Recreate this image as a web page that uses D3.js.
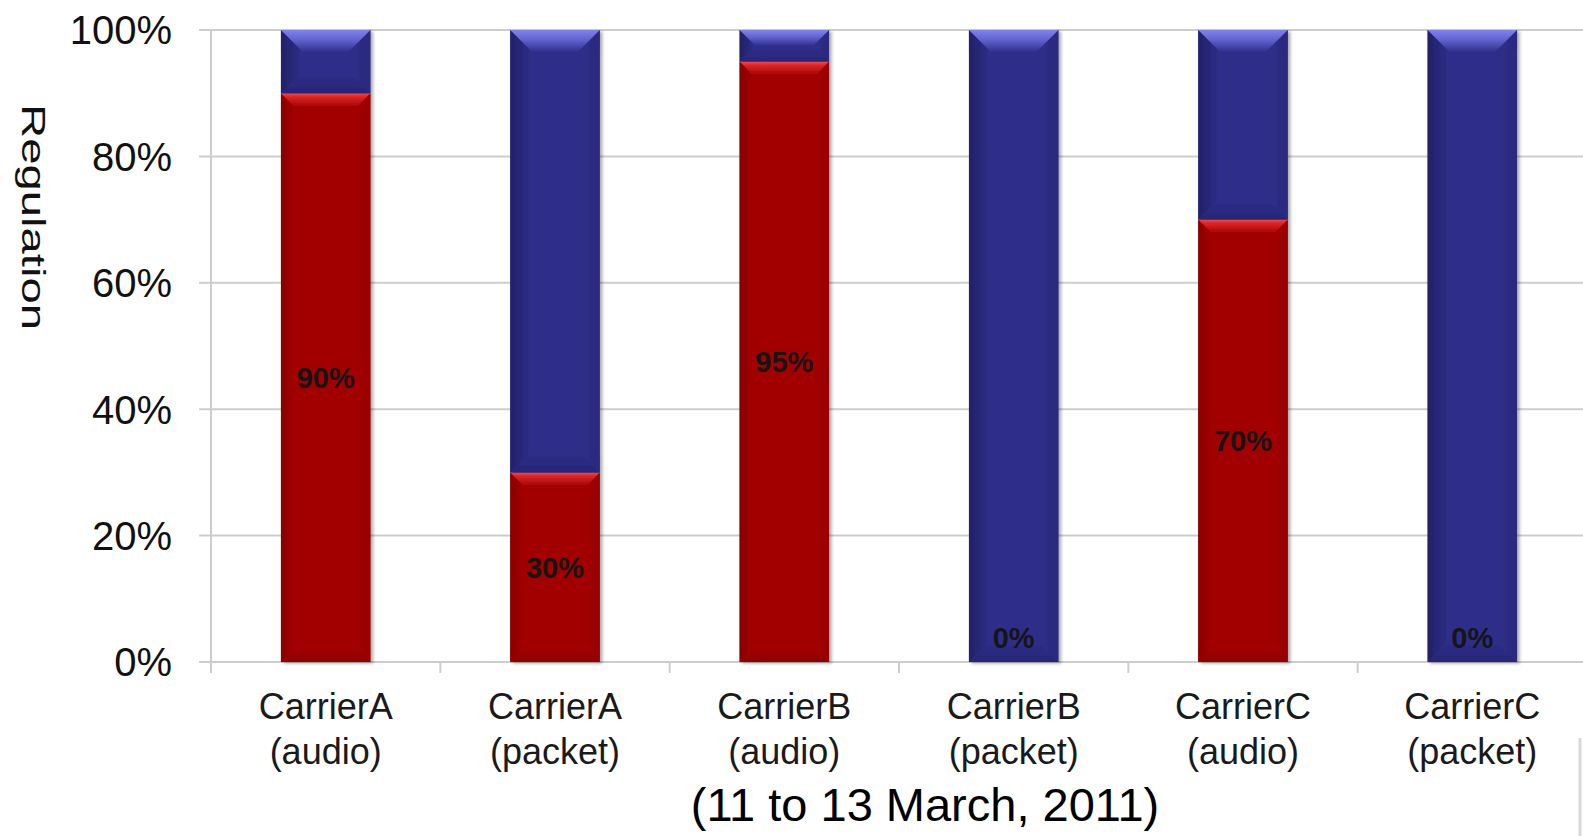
<!DOCTYPE html>
<html>
<head>
<meta charset="utf-8">
<script src="https://cdn.jsdelivr.net/npm/d3@7"></script>
<style>
  html, body { margin: 0; padding: 0; background: #fff; }
  svg { display: block; font-family: "Liberation Sans", Arial, sans-serif; }
</style>
</head>
<body>
<svg id="chart" width="1583" height="836"></svg>
<script>
// Share of regulated traffic per carrier and service, 11–13 March 2011
const carriers = ["CarrierA", "CarrierA", "CarrierB", "CarrierB", "CarrierC", "CarrierC"];
const services = ["(audio)", "(packet)", "(audio)", "(packet)", "(audio)", "(packet)"];
const regulated = [90, 30, 95, 0, 70, 0];           // red, bottom segment
const remaining = regulated.map(v => 100 - v);       // blue, fills each bar to 100%
const yTicks = [0, 20, 40, 60, 80, 100];
const yTickLabels = ["0%", "20%", "40%", "60%", "80%", "100%"];
const axisTitle = "Regulation";
const periodTitle = "(11 to 13 March, 2011)";

const rows = carriers.map((c, i) => ({
  key: c + " " + services[i], carrier: c, service: services[i],
  regulated: regulated[i], remaining: remaining[i]
}));

const svg = d3.select("#chart");
const W = 1583, H = 836;
const plot = { left: 211, right: 1587, top: 30, bottom: 662 };

const x = d3.scaleBand()
  .domain(rows.map(d => d.key))
  .range([plot.left, plot.right])
  .paddingInner(0.61)
  .paddingOuter(0.305);
const y = d3.scaleLinear().domain([0, 100]).range([plot.bottom, plot.top]);

const series = d3.stack().keys(["regulated", "remaining"])(rows);

const palette = {
  regulated: { base: "#A20606", top: "#F64848", topMid: "#DC2424", midAt: 0.3, bevel: 13,
               left: "#880404", right: "#960505", bottom: "#8C0404" },
  remaining: { base: "#2F2F8A", top: "#8282EC", topMid: "#6262CF", midAt: 0.45, bevel: 22,
               left: "#212168", right: "#2A2A7E", bottom: "#262678" }
};

const defs = svg.append("defs");
const shadow = defs.append("filter").attr("id", "barShadow")
  .attr("x", "-10%").attr("y", "-5%").attr("width", "125%").attr("height", "112%");
shadow.append("feDropShadow").attr("dx", 2.5).attr("dy", 1.5).attr("stdDeviation", 1.6)
  .attr("flood-color", "#000").attr("flood-opacity", 0.32);

Object.entries(palette).forEach(([k, c]) => {
  const g = defs.append("linearGradient").attr("id", "top-" + k)
    .attr("x1", 0).attr("y1", 0).attr("x2", 0).attr("y2", 1);
  g.append("stop").attr("offset", 0).attr("stop-color", c.top);
  g.append("stop").attr("offset", c.midAt).attr("stop-color", c.topMid);
  g.append("stop").attr("offset", 1).attr("stop-color", c.base);
  const l = defs.append("linearGradient").attr("id", "left-" + k)
    .attr("x1", 0).attr("y1", 0).attr("x2", 1).attr("y2", 0);
  l.append("stop").attr("offset", 0).attr("stop-color", c.left);
  l.append("stop").attr("offset", 1).attr("stop-color", c.base);
  const r = defs.append("linearGradient").attr("id", "right-" + k)
    .attr("x1", 0).attr("y1", 0).attr("x2", 1).attr("y2", 0);
  r.append("stop").attr("offset", 0).attr("stop-color", c.base);
  r.append("stop").attr("offset", 1).attr("stop-color", c.right);
  const b = defs.append("linearGradient").attr("id", "bottom-" + k)
    .attr("x1", 0).attr("y1", 0).attr("x2", 0).attr("y2", 1);
  b.append("stop").attr("offset", 0).attr("stop-color", c.base);
  b.append("stop").attr("offset", 1).attr("stop-color", c.bottom);
});

// Horizontal gridlines with short outward ticks
const grid = svg.append("g").attr("class", "grid");
grid.selectAll("line").data(yTicks).join("line")
  .attr("x1", plot.left - 12).attr("x2", W + 5)
  .attr("y1", d => y(d)).attr("y2", d => y(d))
  .attr("stroke", "#cdcdcd").attr("stroke-width", 2);

// Value axis line
svg.append("line")
  .attr("x1", plot.left).attr("x2", plot.left)
  .attr("y1", y(100)).attr("y2", y(0) + 11)
  .attr("stroke", "#cdcdcd").attr("stroke-width", 2);

// Category boundary ticks
const step = x.step();
svg.append("g").selectAll("line").data(d3.range(1, rows.length + 1)).join("line")
  .attr("x1", i => plot.left + i * step).attr("x2", i => plot.left + i * step)
  .attr("y1", y(0)).attr("y2", y(0) + 11)
  .attr("stroke", "#cdcdcd").attr("stroke-width", 2);

// Y tick labels
svg.append("g").selectAll("text").data(yTicks).join("text")
  .attr("x", 172).attr("y", d => y(d)).attr("dy", "0.36em")
  .attr("text-anchor", "end").attr("font-size", 40).attr("fill", "#111")
  .text((d, i) => yTickLabels[i]);

// Stacked bevelled bars
const bw = x.bandwidth();
const bars = svg.append("g").selectAll("g.bar").data(rows.map((r, i) => i)).join("g")
  .attr("class", "bar").attr("filter", "url(#barShadow)");

bars.each(function (i) {
  const g = d3.select(this);
  series.forEach(s => {
    const seg = s[i];
    const y0 = y(seg[1]), y1 = y(seg[0]);
    const h = y1 - y0;
    if (h <= 0) return;
    const x0 = x(rows[i].key), x1 = x0 + bw;
    const k = s.key;
    const bv = Math.min(palette[k].bevel, h / 2);
    g.append("rect").attr("x", x0).attr("y", y0).attr("width", bw).attr("height", h)
      .attr("fill", palette[k].base);
    const poly = pts => pts.map(p => p.join(",")).join(" ");
    g.append("polygon").attr("points", poly([[x0, y0], [x0 + bv, y0 + bv], [x0 + bv, y1 - bv], [x0, y1]]))
      .attr("fill", `url(#left-${k})`);
    g.append("polygon").attr("points", poly([[x1, y0], [x1 - bv, y0 + bv], [x1 - bv, y1 - bv], [x1, y1]]))
      .attr("fill", `url(#right-${k})`);
    g.append("polygon").attr("points", poly([[x0, y1], [x0 + bv, y1 - bv], [x1 - bv, y1 - bv], [x1, y1]]))
      .attr("fill", `url(#bottom-${k})`);
    g.append("polygon").attr("points", poly([[x0, y0], [x1, y0], [x1 - bv, y0 + bv], [x0 + bv, y0 + bv]]))
      .attr("fill", `url(#top-${k})`);
  });
});

// Value labels for the regulated share
svg.append("g").selectAll("text").data(series[0]).join("text")
  .attr("x", (d, i) => x(rows[i].key) + bw / 2)
  .attr("y", d => d[1] > d[0] ? (y(d[0]) + y(d[1])) / 2 : y(0) - 24)
  .attr("dy", "0.36em")
  .attr("text-anchor", "middle").attr("font-size", 29).attr("font-weight", "bold")
  .attr("fill", "#151515")
  .text(d => (d[1] - d[0]) + "%");

// Category labels (two lines)
const cat = svg.append("g").selectAll("text").data(rows).join("text")
  .attr("text-anchor", "middle").attr("font-size", 36).attr("fill", "#1a1a1a");
cat.append("tspan").attr("x", d => x(d.key) + bw / 2).attr("y", 719).text(d => d.carrier);
cat.append("tspan").attr("x", d => x(d.key) + bw / 2).attr("y", 764).text(d => d.service);

// Axis title
svg.append("text")
  .attr("transform", "translate(22,217) rotate(90)")
  .attr("text-anchor", "middle").attr("font-size", 34).attr("fill", "#111")
  .attr("textLength", 226).attr("lengthAdjust", "spacingAndGlyphs")
  .text(axisTitle);

// Period caption
svg.append("text")
  .attr("x", 925).attr("y", 821)
  .attr("text-anchor", "middle").attr("font-size", 47).attr("fill", "#000")
  .text(periodTitle);

// Faint edge at the lower right corner
svg.append("line").attr("x1", 1580).attr("x2", 1580).attr("y1", 738).attr("y2", H)
  .attr("stroke", "#d8d8d8").attr("stroke-width", 3);
</script>
</body>
</html>
